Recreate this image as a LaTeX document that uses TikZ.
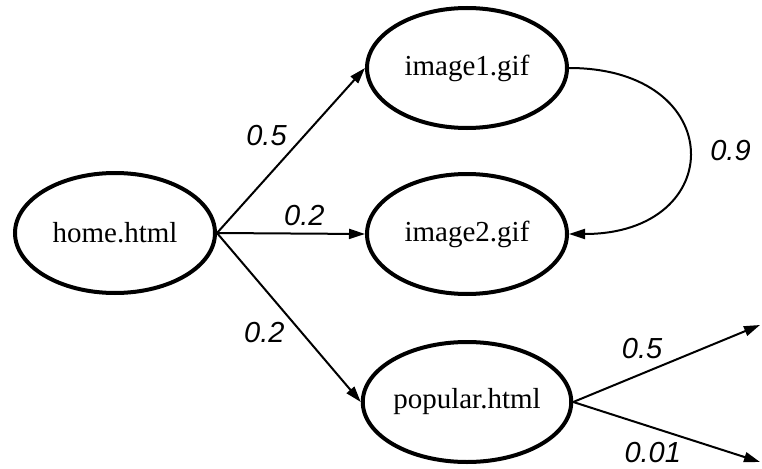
\documentclass[tikz,border=0pt]{standalone}
\usepackage{fontspec}
\setmainfont{Liberation Serif}
\setsansfont{Liberation Sans}
\usetikzlibrary{shapes.geometric,arrows.meta}
\begin{document}
\begin{tikzpicture}[x=1pt,y=-1pt]
	\tikzset{
		page node/.style={ellipse,draw,line width=4pt,minimum width=200pt,minimum height=120pt,inner sep=0pt,font=\fontsize{29}{34}\selectfont},
		link/.style={line width=2pt,-{Triangle[length=16pt,width=10pt]}},
		prob/.style={font=\fontsize{29}{34}\sffamily\itshape\selectfont}
	}
	\useasboundingbox (0,0) rectangle (762,468);
	\node(home)[page node] at (115,233) {home.html};
	\node(img1)[page node] at (467,68) {image1.gif};
	\node(img2)[page node] at (467,234) {image2.gif};
	\node(popular)[page node] at (467,402) {popular.html};
	\coordinate(out1) at (760,325);
	\coordinate(out2) at (760,462);
	\draw[link](home.east)to node[prob,pos=0.5,above left]{0.5}(img1.west);
	\draw[link](home.east)to node[prob,pos=0.59,above=3pt]{0.2}(img2.west);
	\draw[link](home.east)to node[prob,pos=0.5,below left]{0.2}(popular.west);
	\draw[link](img1.east) .. controls +(160,0) and +(160,0) .. (img2.east)
		node[prob,pos=0.5,right=17pt]{0.9};
	\draw[link](popular.east)to node[prob,pos=0.5,above left]{0.5}(out1);
	\draw[link](popular.east)to node[prob,pos=0.6,below left]{0.01}(out2);
\end{tikzpicture}
\end{document}
